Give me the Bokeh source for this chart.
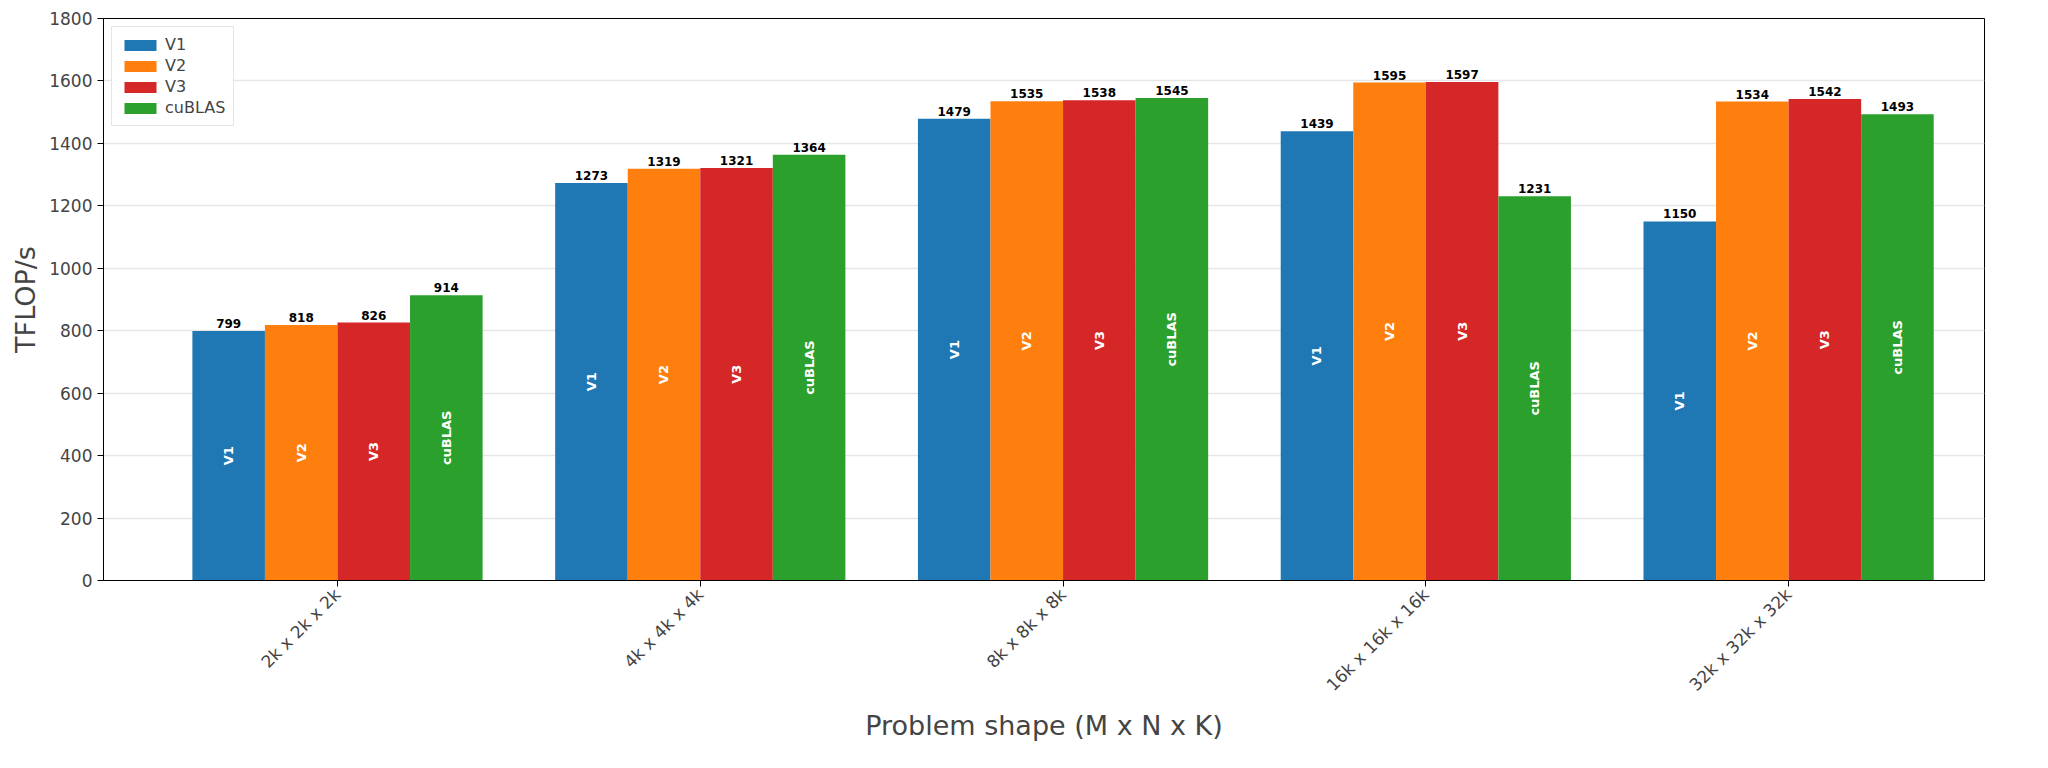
import numpy as np
from bokeh.plotting import figure
from bokeh.models import ColumnDataSource, FixedTicker, Legend, LegendItem
from bokeh.core.properties import value
from bokeh.embed import file_html
from bokeh.resources import INLINE

categories = ["2k x 2k x 2k", "4k x 4k x 4k", "8k x 8k x 8k", "16k x 16k x 16k", "32k x 32k x 32k"]
series = ["V1", "V2", "V3", "cuBLAS"]
v1 = [799, 1273, 1479, 1439, 1150]
v2 = [818, 1319, 1535, 1595, 1534]
v3 = [826, 1321, 1538, 1597, 1542]
cublas = [914, 1364, 1545, 1231, 1493]
colors = ["#1f77b4", "#ff7f0e", "#d62728", "#2ca02c"]
yticks = [0, 200, 400, 600, 800, 1000, 1200, 1400, 1600, 1800]

p = figure(width=2032, height=752, output_backend="svg", toolbar_location=None,
           x_range=(-0.645, 4.54), y_range=(0, 1800),
           min_border_left=103, min_border_right=48, min_border_top=18, min_border_bottom=172)
p.outline_line_color = "black"
p.xgrid.visible = False
p.ygrid.grid_line_color = "#e6e6e6"
p.ygrid.grid_line_width = 1.3

items = []
for i, (name, vals) in enumerate(zip(series, [v1, v2, v3, cublas])):
    xs = [j - 0.3 + 0.2 * i for j in range(len(categories))]
    src = ColumnDataSource(dict(x=xs, top=vals, half=[v / 2 for v in vals],
                                lab=[str(v) for v in vals], nm=[name] * len(vals)))
    r = p.vbar(x="x", top="top", width=0.2, source=src, fill_color=colors[i], line_color=None)
    items.append(LegendItem(label=name, renderers=[r]))
    p.text(x="x", y="top", text="lab", source=src, text_align="center", text_baseline="bottom",
           y_offset=-3, text_font_size="12px", text_font_style="bold", text_color="black",
           text_font=value("DejaVu Sans"))
    p.text(x="x", y="half", text="nm", source=src, angle=np.pi / 2, text_align="center",
           text_baseline="middle", text_font_size="13px", text_font_style="bold",
           text_color="white", text_font=value("DejaVu Sans"))

leg = Legend(items=items, location="top_left", label_text_font_size="16px",
             label_text_font="DejaVu Sans", border_line_color="#cccccc", glyph_width=40,
             glyph_height=14, spacing=2, padding=8, margin=8)
p.add_layout(leg)

p.xaxis.ticker = FixedTicker(ticks=list(range(len(categories))))
p.xaxis.major_label_overrides = {i: c for i, c in enumerate(categories)}
p.xaxis.major_label_orientation = np.pi / 4
p.yaxis.ticker = FixedTicker(ticks=yticks)
for ax in (p.xaxis[0], p.yaxis[0]):
    ax.major_label_text_font_size = "17px"
    ax.major_label_text_font = "DejaVu Sans"
    ax.axis_label_text_font = "DejaVu Sans"
    ax.axis_label_text_font_size = "27px"
    ax.axis_label_text_font_style = "normal"
    ax.minor_tick_line_color = None
    ax.major_tick_out = 6
    ax.major_tick_in = 0
p.xaxis.axis_label = "Problem shape (M x N x K)"
p.yaxis.axis_label = "TFLOP/s"

open("out.html", "w").write(file_html(p, INLINE))
